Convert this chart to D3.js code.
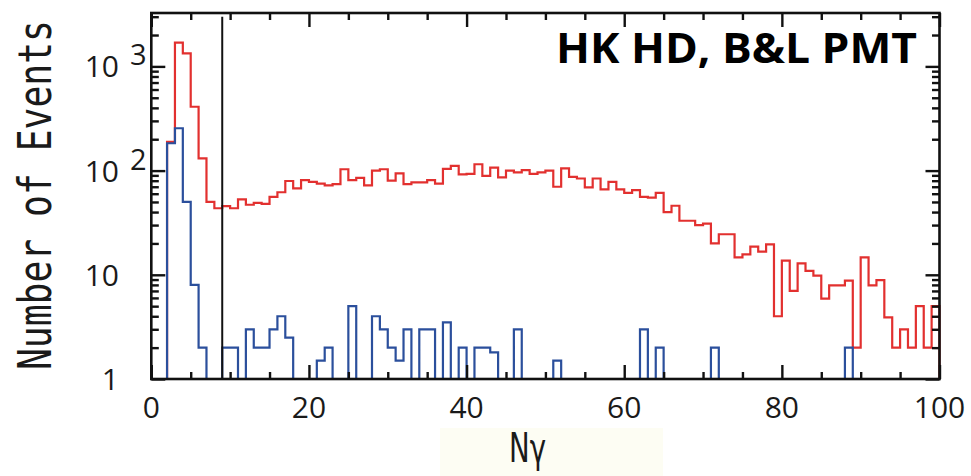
<!DOCTYPE html>
<html>
<head>
<meta charset="utf-8">
<script src="https://cdn.jsdelivr.net/npm/d3@7"></script>
<style>
  html, body { margin: 0; padding: 0; background: #ffffff; }
  svg { display: block; }
</style>
</head>
<body>
<svg id="chart" width="971" height="476"></svg>
<script>
// ---- data (bin lower edges 0..99, width 1) ----
const binStarts = d3.range(0, 100);
const redCounts = [
  0, 0, 189, 1690, 1335, 410, 131, 50, 43.5, 45.7,
  43.5, 53, 47, 49, 48, 56, 62, 79.5, 67.6, 81,
  78, 75, 72, 74, 103, 81, 85, 72, 100, 103,
  80, 94, 74, 77, 77, 81, 75, 104, 111, 92,
  93, 115, 89, 107, 86, 100, 96, 101, 93, 96,
  100, 70, 105, 87, 84, 69, 84, 66, 78, 66,
  61, 65, 56, 55, 61, 40, 46, 33, 33, 30,
  31, 20, 24.5, 24.5, 14.7, 15.7, 18.6, 16.7, 19.6, 4,
  13.7, 7, 12.9, 10.9, 9.8, 5.9, 7.9, 7.9, 8.8, 2,
  14.7, 7.9, 8.9, 3.9, 2, 3, 2, 5, 2, 5
];
const blueCounts = [
  0, 0, 183, 255, 50, 8, 2, 0, 0, 2,
  2, 0, 3, 2, 2, 3, 4, 2.5, 0, 0,
  0, 1.5, 2, 0, 0, 5, 0, 0, 4, 3,
  2, 1.5, 3, 0, 3, 3, 0, 3.5, 0, 2,
  0, 2, 2, 1.8, 0, 0, 3, 0, 0, 0,
  0, 1.5, 0, 0, 0, 0, 0, 0, 0, 0,
  0, 0, 3, 0, 2, 0, 0, 0, 0, 0,
  0, 2, 0, 0, 0, 0, 0, 0, 0, 0,
  0, 0, 0, 0, 0, 0, 0, 0, 2, 0,
  0, 0, 0, 0, 0, 0, 0, 0, 0, 0
];
const cutValue = 9;
const xMajorTicks = [0, 20, 40, 60, 80, 100];
const xMinorTicks = [5, 10, 15, 25, 30, 35, 45, 50, 55, 65, 70, 75, 85, 90, 95];
const yMajorTicks = [1, 10, 100, 1000];
const yMinorTicks = [2, 3, 4, 5, 6, 7, 8, 9, 20, 30, 40, 50, 60, 70, 80, 90,
                     200, 300, 400, 500, 600, 700, 800, 900, 2000, 3000];
const yTickBase = ["1", "10", "10", "10"];
const yTickExp = ["", "", "2", "3"];
const titleText = "HK HD, B&L PMT";
const yTitle = "Number of Events";
const xTitle = "Nγ";

// ---- layout ----
const L = 151.3, R = 939.5, T = 13, B = 379;
const svg = d3.select("#chart");
const x = d3.scaleLinear().domain([0, 100]).range([L, R]);
const y = d3.scaleLog().domain([1, 3254]).range([B, T]).clamp(true);
const yv = v => (v > 0 ? y(v) : y(1));

// histogram step paths
function stepPoints(counts) {
  const pts = [];
  const first = counts.findIndex(v => v > 0);
  pts.push([binStarts[first], 0]);
  for (let i = first; i < counts.length; i++) {
    pts.push([binStarts[i], counts[i]]);
    pts.push([binStarts[i] + 1, counts[i]]);
  }
  pts.push([binStarts[counts.length - 1] + 1, 0]);
  return pts;
}
const line = d3.line().x(d => x(d[0])).y(d => yv(d[1]));

svg.append("path").datum(stepPoints(redCounts))
  .attr("d", line).attr("fill", "none")
  .attr("stroke", "#e2302f").attr("stroke-width", 2.2).attr("stroke-linejoin", "miter");
svg.append("path").datum(stepPoints(blueCounts))
  .attr("d", line).attr("fill", "none")
  .attr("stroke", "#2b4f9c").attr("stroke-width", 2.2).attr("stroke-linejoin", "miter");

// cut line
svg.append("line")
  .attr("x1", x(cutValue)).attr("x2", x(cutValue))
  .attr("y1", y(1)).attr("y2", y(3000))
  .attr("stroke", "#111").attr("stroke-width", 2);

// axes ticks (inward, mirrored)
function styleAxis(g) {
  g.select(".domain").remove();
  g.selectAll(".tick line").attr("stroke", "#111").attr("stroke-width", 2.4);
  g.selectAll(".tick text").remove();
}
svg.append("g").attr("transform", `translate(0,${B})`)
  .call(d3.axisBottom(x).tickValues(xMajorTicks).tickSize(-14)).call(styleAxis);
svg.append("g").attr("transform", `translate(0,${B})`)
  .call(d3.axisBottom(x).tickValues(xMinorTicks).tickSize(-7)).call(styleAxis);
svg.append("g").attr("transform", `translate(0,${T})`)
  .call(d3.axisTop(x).tickValues(xMajorTicks).tickSize(-14)).call(styleAxis);
svg.append("g").attr("transform", `translate(0,${T})`)
  .call(d3.axisTop(x).tickValues(xMinorTicks).tickSize(-7)).call(styleAxis);
svg.append("g").attr("transform", `translate(${L},0)`)
  .call(d3.axisLeft(y).tickValues(yMajorTicks).tickSize(-14)).call(styleAxis);
svg.append("g").attr("transform", `translate(${L},0)`)
  .call(d3.axisLeft(y).tickValues(yMinorTicks).tickSize(-7.5)).call(styleAxis);
svg.append("g").attr("transform", `translate(${R},0)`)
  .call(d3.axisRight(y).tickValues(yMajorTicks).tickSize(-14)).call(styleAxis);
svg.append("g").attr("transform", `translate(${R},0)`)
  .call(d3.axisRight(y).tickValues(yMinorTicks).tickSize(-7.5)).call(styleAxis);

// frame
svg.append("rect")
  .attr("x", L).attr("y", T).attr("width", R - L).attr("height", B - T)
  .attr("fill", "none").attr("stroke", "#111").attr("stroke-width", 2.6);

// x tick labels
svg.append("g").selectAll("text").data(xMajorTicks).join("text")
  .attr("x", d => x(d)).attr("y", 418)
  .attr("text-anchor", "middle")
  .attr("font-family", "'Open Sans', sans-serif").attr("font-size", 30)
  .attr("fill", "#1a1a1a")
  .text(d => d);

// y tick labels with superscripts
const yl = svg.append("g");
yMajorTicks.forEach((t, i) => {
  yl.append("text")
    .attr("x", 119).attr("y", y(t) + 11)
    .attr("text-anchor", "end")
    .attr("font-family", "'Open Sans', sans-serif").attr("font-size", 30)
    .attr("fill", "#1a1a1a")
    .text(yTickBase[i]);
  if (yTickExp[i]) {
    yl.append("text")
      .attr("x", 130).attr("y", y(t) - 1)
      .attr("text-anchor", "start")
      .attr("font-family", "'Open Sans', sans-serif").attr("font-size", 29)
      .attr("fill", "#1a1a1a")
      .text(yTickExp[i]);
  }
});

// y title
svg.append("text")
  .attr("transform", "translate(51,195) rotate(-90)")
  .attr("text-anchor", "middle")
  .attr("font-family", "'DejaVu Sans Mono', monospace").attr("font-size", 46)
  .attr("textLength", 350).attr("lengthAdjust", "spacingAndGlyphs")
  .attr("fill", "#1a1a1a")
  .text(yTitle);

// x title with pale background
svg.append("rect")
  .attr("x", 440).attr("y", 428).attr("width", 223).attr("height", 48)
  .attr("fill", "#fdfdf3");
svg.append("text")
  .attr("x", 509).attr("y", 462)
  .attr("font-family", "'DejaVu Sans', sans-serif").attr("font-size", 40)
  .attr("textLength", 37).attr("lengthAdjust", "spacingAndGlyphs")
  .attr("fill", "#1a1a1a")
  .text(xTitle);

// title label
svg.append("text")
  .attr("x", 556).attr("y", 63)
  .attr("font-family", "'Open Sans', sans-serif").attr("font-weight", 700)
  .attr("font-size", 42)
  .attr("textLength", 361).attr("lengthAdjust", "spacingAndGlyphs")
  .attr("fill", "#000")
  .text(titleText);
</script>
</body>
</html>
